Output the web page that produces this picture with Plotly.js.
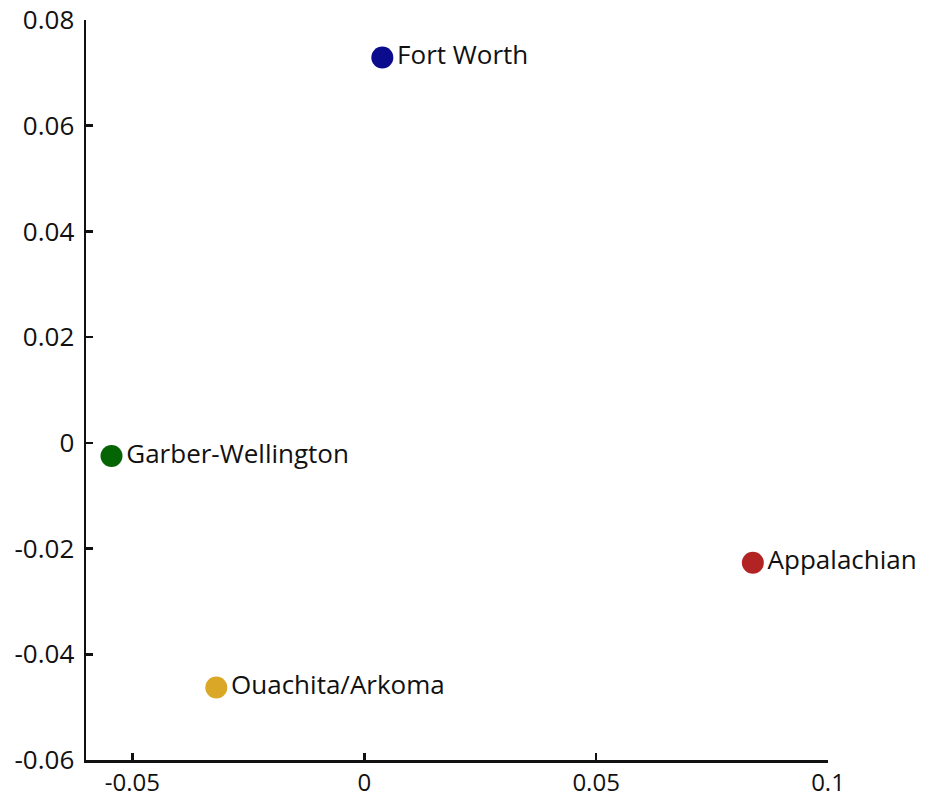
<!DOCTYPE html>
<html>
<head>
<meta charset="utf-8">
<script src="https://cdn.plot.ly/plotly-3.0.1.min.js"></script>
<style>html,body{margin:0;padding:0;background:#fff;}#chart{width:929px;height:798px;}</style>
</head>
<body>
<div id="chart"></div>
<script>
const names = ["Fort Worth", "Garber-Wellington", "Appalachian", "Ouachita/Arkoma"];
const xVals = [0.0039, -0.0545, 0.0838, -0.0319];
const yVals = [0.0729, -0.0025, -0.0227, -0.0463];
const colors = ["#0b0b8e", "#056505", "#b22424", "#dba726"];
const xTickVals = [-0.05, 0, 0.05, 0.1];
const xTickText = ["-0.05", "0", "0.05", "0.1"];
const yTickVals = [0.08, 0.06, 0.04, 0.02, 0, -0.02, -0.04, -0.06];
const yTickText = ["0.08", "0.06", "0.04", "0.02", "0", "-0.02", "-0.04", "-0.06"];

const fontFam = "Open Sans, sans-serif";
const trace = {
  x: xVals, y: yVals, text: names, type: "scatter", mode: "markers+text",
  textposition: "middle right",
  textfont: {family: fontFam, size: 26, color: "#111"},
  marker: {size: 22, color: colors},
  hoverinfo: "none", cliponaxis: false
};
const layout = {
  width: 929, height: 798,
  margin: {l: 86, r: 101, t: 20, b: 38},
  paper_bgcolor: "#fff", plot_bgcolor: "#fff",
  showlegend: false,
  font: {family: fontFam, size: 26, color: "#111"},
  xaxis: {
    range: [-0.06, 0.1], tickvals: xTickVals, ticktext: xTickText,
    showgrid: false, zeroline: false, showline: true, linecolor: "#111", linewidth: 2.5,
    ticks: "inside", ticklen: 7, tickwidth: 2.5, tickcolor: "#111",
    tickfont: {family: fontFam, size: 24, color: "#111"}
  },
  yaxis: {
    range: [-0.06, 0.08], tickvals: yTickVals, ticktext: yTickText,
    showgrid: false, zeroline: false, showline: true, linecolor: "#111", linewidth: 2.5,
    ticks: "inside", ticklen: 7, tickwidth: 2.5, tickcolor: "#111",
    tickfont: {family: fontFam, size: 26, color: "#111"}, ticklabelstandoff: 4
  }
};
Plotly.newPlot("chart", [trace], layout, {displayModeBar: false, staticPlot: true});
</script>
</body>
</html>
